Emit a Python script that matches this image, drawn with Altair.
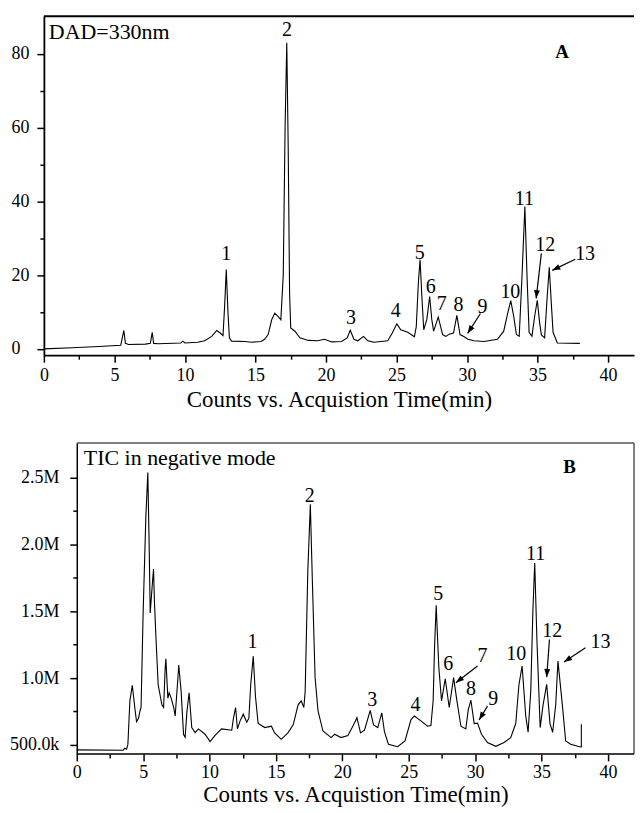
import altair as alt
import pandas as pd

FONT = "Liberation Serif"

# ---------------- Panel A: DAD = 330 nm ----------------
A_t = [0.0, 2.0, 3.9, 5.45, 5.67, 5.78, 6.0, 7.2, 7.55, 7.68, 7.78, 8.1,
       9.7, 9.85, 10.0, 10.9, 11.4, 11.9, 12.25, 12.5, 12.7, 12.82, 12.93, 13.05,
       13.15, 13.3, 14.25, 14.7, 15.4, 15.65, 15.9, 16.15, 16.37, 16.6, 16.8,
       16.97, 17.1, 17.22, 17.32, 17.42, 17.5, 17.8, 18.15, 18.75, 19.4, 19.9,
       20.4, 21.1, 21.5, 21.72, 21.98, 22.26, 22.66, 22.97, 23.4, 24.38, 24.7,
       25.02, 25.3, 25.8, 26.27, 26.4, 26.55, 26.67, 26.8, 26.93, 27.15, 27.35,
       27.5, 27.63, 27.96, 28.27, 28.5, 28.73, 29.04, 29.28, 29.5, 29.8, 30.06,
       30.5, 31.2, 32.16, 32.6, 32.9, 33.1, 33.3, 33.5, 33.7, 33.9, 34.1, 34.25,
       34.4, 34.6, 34.8, 34.98, 35.15, 35.27, 35.5, 35.68, 35.83, 35.98, 36.1,
       36.4, 38.0]
A_v = [0.0, 0.3, 0.65, 1.0, 5.0, 1.5, 1.2, 1.3, 1.5, 4.5, 1.5, 1.4,
       1.6, 2.1, 1.6, 1.8, 2.2, 3.4, 5.0, 4.3, 3.6, 12.0, 21.5, 10.0,
       3.0, 2.1, 2.0, 1.8, 2.0, 2.6, 3.9, 7.9, 9.7, 8.8, 7.9,
       20.0, 60.0, 83.0, 55.0, 15.0, 5.7, 4.8, 3.0, 2.3, 2.2, 2.6,
       1.9, 2.0, 3.0, 5.05, 2.6, 2.2, 3.4, 2.2, 1.8, 2.2, 4.3,
       6.8, 5.2, 4.5, 3.3, 6.0, 18.0, 24.2, 14.0, 5.2, 8.0, 14.2,
       8.0, 4.8, 8.6, 3.9, 3.4, 4.0, 4.3, 9.1, 3.9, 3.3, 2.6,
       2.2, 2.0, 2.6, 4.8, 10.0, 13.1, 9.0, 3.9, 3.4, 20.0, 38.6, 20.0,
       4.5, 3.4, 9.0, 13.2, 7.0, 3.8, 3.0, 14.0, 22.1, 12.0, 4.5,
       1.6, 1.5]

A_lab = ["1", "2", "3", "4", "5", "6", "7", "8", "9", "10", "11", "12", "13"]
A_lab_t = [12.93, 17.24, 21.77, 24.95, 26.64, 27.42, 28.2, 29.4, 31.1, 33.07, 34.06, 35.55, 38.37]
A_lab_v = [25.7, 86.4, 8.3, 10.2, 26.1, 16.7, 12.3, 11.8, 11.3, 15.3, 40.7, 28.3, 25.6]

A_arr_t1 = [30.95, 35.27, 37.67]
A_arr_v1 = [9.6, 25.9, 24.3]
A_arr_t2 = [30.04, 34.9, 36.04]
A_arr_v2 = [4.2, 13.7, 21.3]
A_arr_ang = [213, 186, 244]

A_note = ["DAD=330nm"]
A_note_t = [0.35]
A_note_v = [84.0]
A_tag = ["A"]
A_tag_t = [36.73]
A_tag_v = [80.6]

# ---------------- Panel B: TIC negative mode ----------------
B_t = [0.0, 3.5, 3.6, 3.75, 3.85, 4.0, 4.18, 4.4, 4.5, 4.65, 4.76, 4.84, 5.0, 5.2,
       5.35, 5.45, 5.53, 5.65, 5.78, 5.85, 5.95, 6.13, 6.41, 6.54, 6.66, 6.71, 6.86,
       6.96, 7.11, 7.3, 7.41, 7.58, 7.68, 7.86, 8.04, 8.16, 8.3, 8.46, 8.66, 8.91,
       9.16, 9.66, 10.04, 10.4, 10.9, 11.67, 11.8, 11.96, 12.1, 12.3, 12.54, 12.8,
       12.96, 13.1, 13.29, 13.46, 13.66, 14.16, 14.66, 14.9, 15.4, 15.9, 16.3,
       16.67, 16.9, 17.1, 17.2, 17.4, 17.59, 17.75, 17.95, 18.17, 18.54, 19.16,
       19.42, 19.9, 20.42, 20.8, 21.1, 21.37, 21.67, 22.1, 22.35, 22.67, 22.97,
       23.17, 23.47, 24.17, 24.72, 25.17, 25.42, 25.92, 26.42, 26.67, 26.84, 26.95,
       27.07, 27.17, 27.27, 27.47, 27.75, 28.05, 28.38, 28.63, 28.93, 29.3, 29.48,
       29.68, 29.93, 30.18, 30.48, 30.93, 31.56, 32.18, 32.68, 33.06, 33.3, 33.54,
       33.81, 33.99, 34.19, 34.35, 34.49, 34.65, 34.9, 35.12, 35.39, 35.64, 35.84,
       36.07, 36.24, 36.57, 36.82, 37.2, 37.94, 38.0, 38.0]
B_v = [463000, 460000, 475000, 468000, 505000, 830000, 946000, 754000, 674000, 700000,
       754000, 780000, 1500000, 2200000, 2537000, 2000000, 1487000, 1650000, 1816000,
       1570000, 1330000, 950000, 800000, 780000, 1080000, 1144000, 850000, 890000,
       850000, 780000, 716000, 950000, 1097000, 900000, 580000, 557000, 754000,
       890000, 630000, 592000, 620000, 580000, 525000, 570000, 620000, 610000,
       700000, 780000, 620000, 680000, 730000, 670000, 700000, 950000, 1164000,
       860000, 660000, 630000, 640000, 590000, 542000, 590000, 650000, 800000,
       830000, 780000, 900000, 1800000, 2300000, 1700000, 1000000, 754000, 604000,
       555000, 580000, 555000, 570000, 642000, 704000, 590000, 610000, 759000,
       650000, 630000, 740000, 600000, 505000, 487000, 530000, 690000, 716000,
       680000, 640000, 645000, 830000, 1250000, 1545000, 1300000, 1077000, 830000,
       995000, 780000, 1003000, 830000, 640000, 620000, 760000, 836000, 660000,
       663000, 580000, 518000, 490000, 518000, 555000, 660000, 950000, 1090000,
       720000, 595000, 900000, 1500000, 1860000, 1300000, 630000, 800000, 953000,
       660000, 595000, 800000, 1127000, 800000, 530000, 505000, 485000, 485000, 654000]

B_lab = ["1", "2", "3", "4", "5", "6", "7", "8", "9", "10", "11", "12", "13"]
B_lab_t = [13.24, 17.54, 22.25, 25.5, 27.23, 27.98, 30.56, 29.68, 31.36, 33.1, 34.56, 35.81, 39.44]
B_lab_v = [1270000, 2360000, 838000, 800000, 1625000, 1107000, 1164000, 918000, 843000,
           1180000, 1930000, 1350000, 1270000]

B_arr_t1 = [30.18, 30.93, 35.6, 38.31]
B_arr_v1 = [1090000, 790000, 1289000, 1226000]
B_arr_t2 = [28.55, 30.3, 35.39, 36.69]
B_arr_v2 = [965000, 687000, 1007000, 1120000]
B_arr_ang = [232, 211, 184, 237]

B_note = ["TIC in negative mode"]
B_note_t = [0.53]
B_note_v = [2590000]
B_tag = ["B"]
B_tag_t = [37.11]
B_tag_v = [2582000]

X_MAJOR = [0, 5, 10, 15, 20, 25, 30, 35, 40]
X_MINOR = [2.5, 7.5, 12.5, 17.5, 22.5, 27.5, 32.5, 37.5]
A_Y_MAJOR = [0, 20, 40, 60, 80]
A_Y_MINOR = [10, 30, 50, 70]
B_Y_MAJOR = [500000, 1000000, 1500000, 2000000, 2500000]
B_Y_MINOR = [750000, 1250000, 1750000, 2250000]

XTITLE = "Counts vs. Acquistion Time(min)"
ARROW = "M0,0L-0.42,1.15L0.42,1.15Z"

W = 592        # both panels share this group width
B_IN = 33      # panel B's plot frame starts this far right of panel A's axis
A_H = 340
B_H = 312


def build_panel(t, v, lab, lab_t, lab_v, at1, av1, at2, av2, aang,
                note, note_t, note_v, tag, tag_t, tag_v,
                xdom, ydom, ymaj, ymin, height, inset, ylabel_kw, dom_w,
                x_lab_pad, x_title_pad, title_x, frame):
    trace = pd.DataFrame({"t": t, "v": v, "i": list(range(len(t)))})
    labels = pd.DataFrame({"t": lab_t, "v": lab_v, "s": lab})
    arrows = pd.DataFrame({"t1": at1, "v1": av1, "t2": at2, "v2": av2, "a": aang})
    notes = pd.DataFrame({"t": note_t, "v": note_v, "s": note})
    tags = pd.DataFrame({"t": tag_t, "v": tag_v, "s": tag})

    def xs():
        return alt.Scale(domain=xdom, nice=False, zero=False)

    def ys():
        return alt.Scale(domain=ydom, nice=False, zero=False)

    xaxis_kw = dict(values=X_MAJOR, tickSize=7, tickWidth=1.5, labelPadding=x_lab_pad,
                    domainWidth=dom_w, labelFlush=False, labelOverlap=False,
                    title=XTITLE, titlePadding=x_title_pad, orient="bottom",
                    domain=(inset == 0))
    if title_x is not None:
        xaxis_kw["titleX"] = title_x

    line = alt.Chart(trace).mark_line(color="black", strokeWidth=1.1).encode(
        x=alt.X("t:Q", scale=xs(), axis=alt.Axis(**xaxis_kw)),
        y=alt.Y("v:Q", scale=ys(), axis=alt.Axis(
            values=ymaj, tickSize=7, tickWidth=1.5, domainWidth=dom_w,
            labelFlush=False, labelOverlap=False, title=None, orient="left",
            offset=-inset, **ylabel_kw)),
        order=alt.Order("i:Q"),
    )

    peak_labels = alt.Chart(labels).mark_text(
        font=FONT, fontSize=20, color="black", align="center", baseline="middle"
    ).encode(
        x=alt.X("t:Q", scale=xs(), axis=alt.Axis(
            values=X_MINOR, tickSize=4, tickWidth=1.5, labels=False, domain=False,
            title=None, orient="bottom")),
        y=alt.Y("v:Q", scale=ys(), axis=alt.Axis(
            values=ymin, tickSize=4, tickWidth=1.5, labels=False, domain=False,
            title=None, orient="left", offset=-inset)),
        text="s:N",
    )

    arrow_lines = alt.Chart(arrows).mark_rule(color="black", strokeWidth=1.2).encode(
        x=alt.X("t1:Q", scale=xs(), axis=None), x2="t2:Q",
        y=alt.Y("v1:Q", scale=ys(), axis=None), y2="v2:Q",
    )

    arrow_heads = alt.Chart(arrows).mark_point(
        shape=ARROW, filled=True, color="black", size=200, opacity=1
    ).encode(
        x=alt.X("t2:Q", scale=xs(), axis=None),
        y=alt.Y("v2:Q", scale=ys(), axis=None),
        angle=alt.Angle("a:Q", scale=None),
    )

    note_text = alt.Chart(notes).mark_text(
        font=FONT, fontSize=22, color="black", align="left", baseline="alphabetic"
    ).encode(
        x=alt.X("t:Q", scale=xs(), axis=None),
        y=alt.Y("v:Q", scale=ys(), axis=None),
        text="s:N",
    )

    tag_text = alt.Chart(tags).mark_text(
        font=FONT, fontSize=19, fontWeight="bold", color="black", align="center",
        baseline="middle"
    ).encode(
        x=alt.X("t:Q", scale=xs(), axis=None),
        y=alt.Y("v:Q", scale=ys(), axis=None),
        text="s:N",
    )

    layers = [line, peak_labels, arrow_lines, arrow_heads, note_text, tag_text]
    # plot frame (top line; for B also the right side and the bottom axis line)
    for (x1, x2, y1, y2, col, sw) in frame:
        enc = dict(x=alt.value(x1), y=alt.value(y1))
        if x2 is not None:
            enc["x2"] = alt.value(x2)
        if y2 is not None:
            enc["y2"] = alt.value(y2)
        layers.append(alt.Chart(tags).mark_rule(color=col, strokeWidth=sw).encode(**enc))

    return alt.layer(*layers).resolve_axis(
        x="independent", y="independent"
    ).properties(width=W, height=height, view=alt.ViewBackground(stroke="transparent"))


A_PXU = 14.15   # px per minute in panel A
B_PXU = 13.32   # px per minute in panel B

panel_a = build_panel(
    A_t, A_v, A_lab, A_lab_t, A_lab_v, A_arr_t1, A_arr_v1, A_arr_t2, A_arr_v2, A_arr_ang,
    A_note, A_note_t, A_note_v, A_tag, A_tag_t, A_tag_v,
    xdom=[0, W / A_PXU], ydom=[-1.7, 90.2], ymaj=A_Y_MAJOR, ymin=A_Y_MINOR,
    height=A_H, inset=0,
    ylabel_kw=dict(labelAlign="left", labelPadding=26, labelBaseline="middle"),
    dom_w=1.8, x_lab_pad=4, x_title_pad=4, title_x=None,
    frame=[(0, W, 0, None, "black", 1.8)],
)

panel_b = build_panel(
    B_t, B_v, B_lab, B_lab_t, B_lab_v, B_arr_t1, B_arr_v1, B_arr_t2, B_arr_v2, B_arr_ang,
    B_note, B_note_t, B_note_v, B_tag, B_tag_t, B_tag_v,
    xdom=[-B_IN / B_PXU, (W - B_IN) / B_PXU], ydom=[433000, 2759000],
    ymaj=B_Y_MAJOR, ymin=B_Y_MINOR,
    height=B_H, inset=B_IN,
    ylabel_kw=dict(labelAlign="right", labelPadding=11, labelBaseline="middle",
                   labelExpr="datum.value < 1000000 ? format(datum.value/1000, '.1f') + 'k' : format(datum.value/1000000, '.1f') + 'M'"),
    dom_w=1.5, x_lab_pad=3, x_title_pad=2, title_x=B_IN + (W - B_IN) / 2,
    frame=[(B_IN, W, 0, None, "#555555", 1.5),
           (W, None, 0, B_H, "#555555", 1.5),
           (B_IN, W, B_H, None, "black", 1.5)],
)

chart = alt.vconcat(panel_a, panel_b, spacing=29).properties(
    padding={"left": 1, "top": 5, "right": 0, "bottom": 0},
    background="white",
).configure_axis(
    grid=False, labelFont=FONT, titleFont=FONT, labelFontSize=18, titleFontSize=23,
    labelColor="black", titleColor="black", domainColor="black", tickColor="black",
    titleFontWeight="normal",
)

chart.save("out.html", embed_options={"renderer": "svg", "actions": False})
